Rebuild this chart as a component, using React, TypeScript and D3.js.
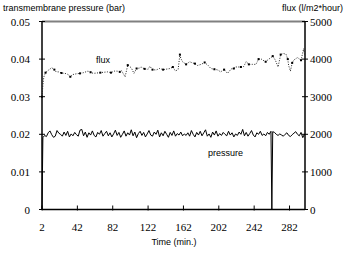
import React from "react";
import * as d3 from "d3";

const xTicks = [2, 42, 82, 122, 162, 202, 242, 282];
const leftTicks = [0, 0.01, 0.02, 0.03, 0.04, 0.05];
const rightTicks = [0, 1000, 2000, 3000, 4000, 5000];

const fluxTime = [2, 3, 4, 6, 9, 13, 16, 18, 21, 24, 28, 31, 34, 37, 41, 45, 49, 54, 57, 60, 64, 68, 72, 76, 80, 84, 87, 90, 92, 96, 99, 103, 106, 109, 112, 114, 118, 122, 124, 127, 131, 135, 139, 142, 147, 150, 153, 156, 158, 159, 161, 165, 169, 172, 175, 178, 182, 186, 190, 193, 197, 201, 204, 208, 212, 216, 219, 221, 224, 227, 230, 233, 236, 240, 244, 247, 250, 252, 255, 258, 261, 263, 266, 269, 272, 275, 278, 280, 281, 283, 285, 287, 291, 295, 298, 299];
const fluxValue = [3000, 3300, 3520, 3640, 3700, 3770, 3720, 3660, 3660, 3630, 3620, 3600, 3530, 3590, 3610, 3620, 3640, 3680, 3650, 3620, 3630, 3640, 3650, 3660, 3640, 3680, 3680, 3660, 3690, 3530, 3840, 3770, 3620, 3750, 3760, 3790, 3740, 3730, 3810, 3720, 3710, 3750, 3720, 3730, 3750, 3790, 3680, 3730, 4120, 4020, 3930, 3860, 3930, 3900, 3880, 3830, 3860, 3910, 3830, 3750, 3730, 3710, 3660, 3720, 3620, 3740, 3750, 3790, 3790, 3790, 3800, 3930, 3860, 3860, 3860, 4000, 4000, 3970, 3930, 3990, 4040, 4080, 3970, 3790, 4120, 4150, 4130, 4000, 3830, 3680, 3900, 3980, 4040, 3970, 4280, 4120];

const pressureTime = [2, ...d3.range(3, 262, 2), 262, ...d3.range(263, 300, 2)];
const pressureValue = [
  0,
  0.0191, 0.0197, 0.0194, 0.0204, 0.0209, 0.0199, 0.0192, 0.0195, 0.0210, 0.0203,
  0.0200, 0.0195, 0.0206, 0.0197, 0.0208, 0.0193, 0.0201, 0.0196, 0.0205, 0.0199,
  0.0195, 0.0211, 0.0213, 0.0196, 0.0206, 0.0192, 0.0204, 0.0198, 0.0209, 0.0197,
  0.0193, 0.0205, 0.0200, 0.0210, 0.0195, 0.0202, 0.0208, 0.0196, 0.0204, 0.0193,
  0.0201, 0.0211, 0.0197, 0.0205, 0.0192, 0.0200, 0.0209, 0.0195, 0.0204, 0.0198,
  0.0212, 0.0196, 0.0206, 0.0191, 0.0202, 0.0208, 0.0197, 0.0205, 0.0193, 0.0201,
  0.0210, 0.0198, 0.0195, 0.0206, 0.0200, 0.0211, 0.0193, 0.0204, 0.0196, 0.0208,
  0.0200, 0.0192, 0.0205, 0.0197, 0.0209, 0.0195, 0.0202, 0.0198, 0.0206, 0.0196,
  0.0201, 0.0197, 0.0204, 0.0195, 0.0210, 0.0200, 0.0193, 0.0205, 0.0198, 0.0208,
  0.0196, 0.0204, 0.0212, 0.0195, 0.0201, 0.0192, 0.0206, 0.0198, 0.0209, 0.0195,
  0.0202, 0.0197, 0.0205, 0.0200, 0.0196, 0.0208, 0.0198, 0.0204, 0.0193, 0.0201,
  0.0197, 0.0206, 0.0200, 0.0213, 0.0196, 0.0205, 0.0195, 0.0202, 0.0210, 0.0198,
  0.0193, 0.0204, 0.0200, 0.0208, 0.0197, 0.0201, 0.0196, 0.0205, 0.0200, 0.0208,
  0,
  0.0207, 0.0205, 0.0200, 0.0197, 0.0201, 0.0198, 0.0195, 0.0200, 0.0204, 0.0197,
  0.0194, 0.0199, 0.0203, 0.0207, 0.0200, 0.0196, 0.0205, 0.0191, 0.0201,
];

const W = 347, H = 253;
const L = 42, R = 305, T = 21.5, B = 209.5;

export default function App() {
  const x = d3.scaleLinear().domain([2, 299.5]).range([L, R]);
  const yL = d3.scaleLinear().domain([0, 0.05]).range([B, T]);
  const yR = d3.scaleLinear().domain([0, 5000]).range([B, T]);

  const pLine = d3.line<number>().x((_, i) => x(pressureTime[i])).y((d) => yL(d));
  const fLine = d3.line<number>().x((_, i) => x(fluxTime[i])).y((d) => yR(d));

  const sans = "Liberation Sans, Arial, sans-serif";
  const serif = "Liberation Serif, Times New Roman, serif";

  return (
    <svg width={W} height={H} style={{ position: "absolute", left: 0, top: 0, background: "#fff" }}>
      <rect x={0} y={0} width={W} height={H} fill="#fff" />
      <text x={3} y={11} fontFamily={sans} fontSize={9} fill="#000">transmembrane pressure (bar)</text>
      <text x={343} y={11} fontFamily={sans} fontSize={9} fill="#000" textAnchor="end">flux (l/m2*hour)</text>

      {/* top frame */}
      <line x1={L} x2={R} y1={T} y2={T} stroke="#808080" strokeWidth={2} />

      {/* left axis */}
      <line x1={L} x2={L} y1={T} y2={B} stroke="#000" strokeWidth={1.5} />
      {leftTicks.map((t) => (
        <g key={"l" + t}>
          <line x1={L - 3} x2={L + 3} y1={yL(t)} y2={yL(t)} stroke="#000" />
          <text x={L - 12} y={yL(t) + 4} fontFamily={serif} fontSize={11} textAnchor="end">{String(t)}</text>
        </g>
      ))}

      {/* right axis */}
      <line x1={R} x2={R} y1={T} y2={B} stroke="#000" strokeWidth={1.5} />
      {rightTicks.map((t) => (
        <g key={"r" + t}>
          <line x1={R - 3} x2={R + 3} y1={yR(t)} y2={yR(t)} stroke="#000" />
          <text x={R + 5} y={yR(t) + 4} fontFamily={serif} fontSize={11}>{String(t)}</text>
        </g>
      ))}

      {/* bottom axis */}
      <line x1={L} x2={R} y1={B} y2={B} stroke="#000" strokeWidth={1.5} />
      {xTicks.map((t) => (
        <g key={"x" + t}>
          <line x1={x(t)} x2={x(t)} y1={B - 4} y2={B + 1} stroke="#000" />
          <text x={x(t)} y={231} fontFamily={serif} fontSize={11} textAnchor="middle">{String(t)}</text>
        </g>
      ))}
      <text x={174} y={245} fontFamily={sans} fontSize={9} textAnchor="middle">Time (min.)</text>

      {/* pressure */}
      <path d={pLine(pressureValue) || ""} fill="none" stroke="#000" strokeWidth={1} />

      {/* flux */}
      <path d={fLine(fluxValue) || ""} fill="none" stroke="#222" strokeWidth={1} strokeDasharray="1,1.5" />
      {fluxValue.map((v, i) =>
        i % 3 === 0 ? (
          <rect key={"f" + i} x={x(fluxTime[i]) - 1} y={yR(v) - 1} width={2} height={2} fill="#000" />
        ) : null
      )}

      <text x={96} y={63} fontFamily={sans} fontSize={9}>flux</text>
      <text x={208} y={156} fontFamily={sans} fontSize={9}>pressure</text>
    </svg>
  );
}
